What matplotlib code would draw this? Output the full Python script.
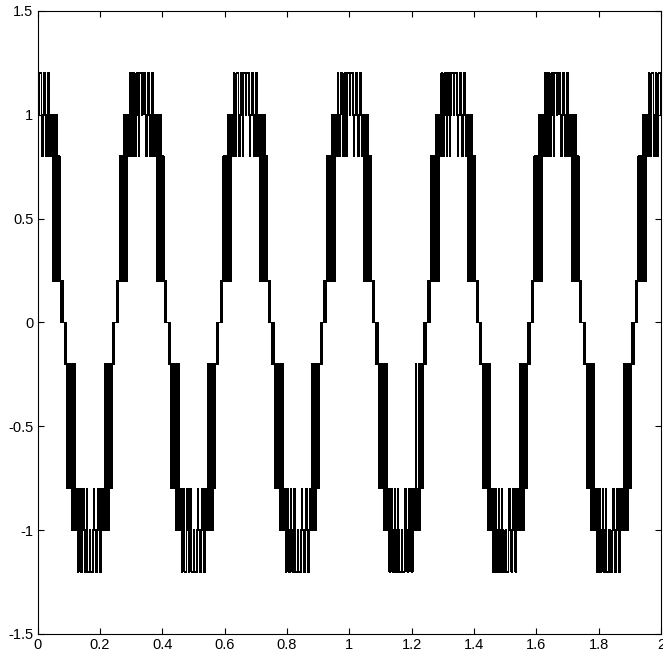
import numpy as np
import matplotlib
matplotlib.use('Agg')
from matplotlib import pyplot as plt

# peak / trough centres of the stepped wave (seconds)
peak_t = [0.001, 0.334, 0.667, 1.000, 1.333, 1.665, 1.998]
trough_t = [0.167, 0.500, 0.833, 1.166, 1.499, 1.832]

# switching pattern of one positive half cycle: offset from the centre (ms) and new level
half_off_ms = [-83.2, -80.0, -77.4, -74.9, -71.4, -69.1, -66.9, -64.6, -62.4, -60.2,
               -57.9, -55.7, -53.8, -51.8, -49.6, -48.0, -46.1, -44.2, -41.9, -40.0,
               -37.8, -34.6, -32.3, -30.1, -28.5, -22.4, -20.2, -18.2, -16.0, -11.8,
               -9.9, -8.3, -7.0, 1.6, 3.2, 11.8, 13.8, 16.0, 20.2, 24.6,
               26.6, 28.8, 30.7, 33.0, 37.4, 39.4, 41.3, 43.5, 45.8, 47.7,
               49.9, 52.2, 54.1, 56.0, 57.9, 59.8, 61.8, 64.0, 66.2, 68.5,
               70.7, 74.6, 77.1, 80.0]
half_lvl = [0.0, 0.2, 0.0, 0.2, 0.8, 0.2, 0.8, 0.2, 0.8, 0.2,
            0.8, 1.0, 0.2, 0.8, 1.0, 0.2, 0.8, 1.0, 0.8, 1.0,
            1.2, 0.8, 1.0, 0.8, 1.2, 1.0, 0.8, 1.0, 1.2, 1.0,
            0.8, 1.0, 1.2, 1.0, 1.2, 1.0, 0.8, 1.0, 1.2, 1.0,
            0.8, 1.0, 0.8, 1.2, 1.0, 0.8, 1.0, 0.8, 1.0, 0.2,
            0.8, 1.0, 0.8, 0.2, 0.8, 1.0, 0.2, 0.8, 0.2, 0.8,
            0.2, 0.0, 0.2, 0.0]

xticks = [0, 0.2, 0.4, 0.6, 0.8, 1, 1.2, 1.4, 1.6, 1.8, 2]
xlabels = ['0', '0.2', '0.4', '0.6', '0.8', '1', '1.2', '1.4', '1.6', '1.8', '2']
yticks = [-1.5, -1, -0.5, 0, 0.5, 1, 1.5]
ylabels = ['-1.5', '-1', '-0.5', '0', '0.5', '1', '1.5']

off = np.array(half_off_ms) / 1000.0
lvl = np.array(half_lvl)

# collect the edges of every half cycle
edges = []
for c in peak_t:
    edges += list(zip(c + off, lvl))
for c in trough_t:
    edges += list(zip(c + off, -lvl))
edges.sort()
t = np.array([e[0] for e in edges])
v = np.array([e[1] for e in edges])

plt.rcParams['font.family'] = ['Liberation Sans', 'DejaVu Sans']
fig = plt.figure(figsize=(6.63, 6.58), dpi=100)
ax = fig.add_axes([0.0566, 0.0365, 0.9405, 0.9468])
ax.step(t, v, where='post', color='black', lw=0.55, antialiased=False)

ax.set_xlim(0, 2)
ax.set_ylim(-1.5, 1.5)
ax.set_xticks(xticks)
ax.set_xticklabels(xlabels)
ax.set_yticks(yticks)
ax.set_yticklabels(ylabels)
ax.tick_params(direction='in', length=4.5, width=0.8, labelsize=10.5,
               top=True, right=True, pad=3)
for s in ax.spines.values():
    s.set_linewidth(0.8)

fig.savefig('out.png', dpi=100)
